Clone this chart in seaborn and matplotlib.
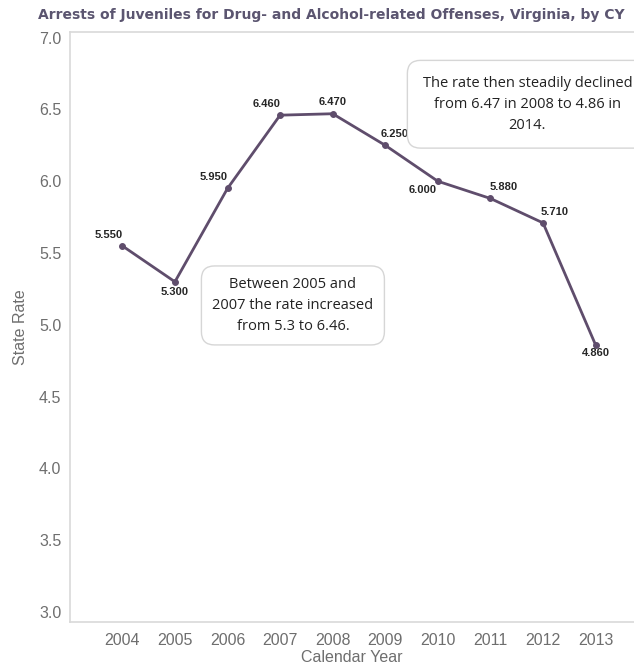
"""
Line chart: juvenile drug- and alcohol-related arrest rate, Virginia.
"""

import matplotlib
matplotlib.use("Agg")
import matplotlib.pyplot as plt
import seaborn as sns
import pandas as pd

sns.set_style("white")
plt.rcParams['font.family'] = ['Liberation Sans', 'DejaVu Sans']

# Data
years = [2004, 2005, 2006, 2007, 2008, 2009, 2010, 2011, 2012, 2013]
rates = [5.55, 5.30, 5.95, 6.46, 6.47, 6.25, 6.00, 5.88, 5.71, 4.86]
y_ticks = [3.0, 3.5, 4.0, 4.5, 5.0, 5.5, 6.0, 6.5, 7.0]

title = "Arrests of Juveniles for Drug- and Alcohol-related Offenses, Virginia, by CY"
note_left = "Between 2005 and\n2007 the rate increased\nfrom 5.3 to 6.46."
note_right = "The rate then steadily declined\nfrom 6.47 in 2008 to 4.86 in\n2014."

# label offsets (points) for the value labels
label_offsets = [(-9.5, 8), (-0.5, -7), (-10, 8.5), (-9.5, 8), (0, 8.5),
                 (6.5, 8.5), (-11, -6.5), (9.5, 8.5), (8.5, 8), (0.5, -6)]

line_color = '#5f4d6c'
grid_color = '#d9d9d9'
text_gray = '#6e6e6e'

df = pd.DataFrame({'year': years, 'rate': rates})

fig = plt.figure(figsize=(6.34, 6.64), dpi=100)
ax = fig.add_axes([0.110, 0.063, 0.890, 0.889])

sns.lineplot(data=df, x='year', y='rate', ax=ax, color=line_color,
             linewidth=2.0, marker='o', markersize=4.2,
             markeredgecolor=line_color)

for (x, y), (dx, dy) in zip(zip(years, rates), label_offsets):
    ax.annotate(f"{y:.3f}", (x, y), xytext=(dx, dy), textcoords='offset points',
                ha='center', va='center', fontsize=8, fontweight='bold',
                color='#262626')

ax.set_xlim(2003.0, 2013.73)
ax.set_ylim(2.93, 7.04)
ax.set_xticks(years)
ax.set_xticklabels([str(y) for y in years])
ax.set_yticks(y_ticks)
ax.set_yticklabels([f"{t:.1f}" for t in y_ticks])

ax.tick_params(axis='both', colors=grid_color, labelcolor=text_gray, labelsize=11.5)
ax.tick_params(axis='y', length=4, width=1, pad=2)
ax.tick_params(axis='x', length=0, pad=8)

for side in ['left', 'bottom', 'top']:
    ax.spines[side].set_color(grid_color)
    ax.spines[side].set_linewidth(1.2)
ax.spines['right'].set_visible(False)

ax.set_xlabel("Calendar Year", fontsize=11.5, color=text_gray, labelpad=1)
ax.set_ylabel("State Rate", fontsize=11.5, color=text_gray, labelpad=8)

fig.text(0.060, 0.978, title, fontsize=10, fontweight='bold',
         color='#5b5570', family='DejaVu Sans', ha='left', va='center')

box_l = dict(boxstyle='round,pad=0.75,rounding_size=0.9', facecolor='white',
             edgecolor='#d6d6d6', linewidth=1)
box_r = dict(boxstyle='round,pad=1.05,rounding_size=0.9', facecolor='white',
             edgecolor='#d6d6d6', linewidth=1)
fig.text(0.462, 0.540, note_left, fontsize=10.5, color='#222222',
         ha='center', va='center', linespacing=1.55,
         family=['Open Sans', 'DejaVu Sans'], bbox=box_l)
fig.text(0.832, 0.843, note_right, fontsize=10.5, color='#222222',
         ha='center', va='center', linespacing=1.55,
         family=['Open Sans', 'DejaVu Sans'], bbox=box_r)

plt.savefig('out.png', dpi=100)
